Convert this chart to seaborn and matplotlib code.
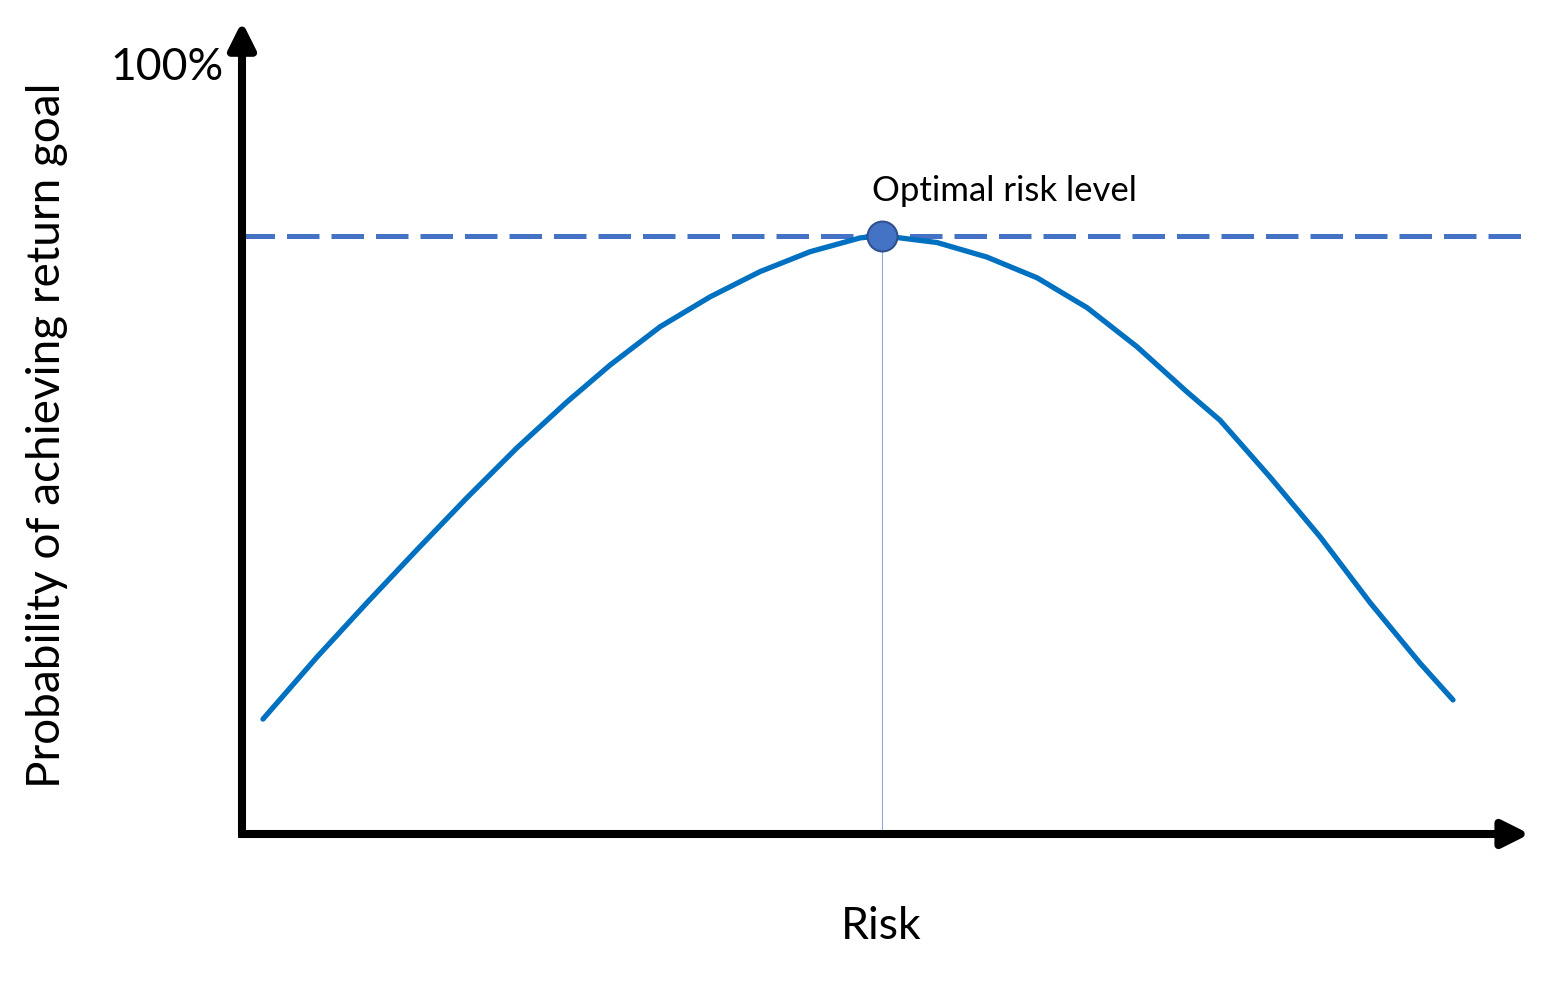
import numpy as np
import pandas as pd
import seaborn as sns
import matplotlib.pyplot as plt

# values: risk on a 0-10 scale, probability in %
risk = [0.164, 0.586, 0.977, 1.367, 1.758, 2.148, 2.539, 2.875, 3.266,
        3.656, 4.047, 4.438, 4.828, 5.0, 5.430, 5.820, 6.211, 6.602,
        6.992, 7.383, 7.641, 8.031, 8.422, 8.813, 9.203, 9.461]
prob = [15.0, 23.1, 30.2, 37.1, 43.9, 50.4, 56.4, 61.2, 66.2,
        70.1, 73.4, 76.0, 77.8, 78.1, 77.2, 75.3, 72.6, 68.7,
        63.6, 57.7, 54.0, 46.6, 38.8, 30.2, 22.3, 17.5]
optimal_risk = 5.0
optimal_prob = 78.1

df = pd.DataFrame({'Risk': risk, 'Probability': prob})

sns.set_style("white")
plt.rcParams['font.family'] = ['Lato', 'DejaVu Sans']
plt.rcParams['text.color'] = 'black'

fig = plt.figure(figsize=(15.5, 9.85), dpi=100)
ax = fig.add_axes([242/1550, 151/985, 1280/1550, 806/985])

sns.lineplot(data=df, x='Risk', y='Probability', ax=ax, color='#0070C0',
             linewidth=3.8, zorder=3)
ax.plot([0, 10], [optimal_prob, optimal_prob], color='#4472C4', lw=3.6,
        ls=(0, (6.5, 2.4)), zorder=2, solid_capstyle='butt')
ax.plot([optimal_risk, optimal_risk], [0, optimal_prob], color='#8FAADC',
        lw=0.8, zorder=1)
sns.scatterplot(x=[optimal_risk], y=[optimal_prob], ax=ax, s=21.5**2,
                color='#4472C4', edgecolor='#2F528F', linewidth=1.5, zorder=4)

ax.set_xlim(0, 10)
ax.set_ylim(0, 105.2)
ax.set_xticks([])
ax.set_yticks([])
ax.set_xlabel('')
ax.set_ylabel('')
sns.despine(ax=ax, left=True, bottom=True)

# axis arrows
arrow = dict(arrowstyle='-|>', lw=5.8, color='black', mutation_scale=40,
             shrinkA=0, shrinkB=0, capstyle='butt')
ax.annotate('', xy=(0, 1.008), xytext=(0, -0.004), xycoords='axes fraction',
            arrowprops=arrow, annotation_clip=False)
ax.annotate('', xy=(1.006, 0), xytext=(-0.003, 0), xycoords='axes fraction',
            arrowprops=arrow, annotation_clip=False)

ax.text(-0.14, 100, '100%', ha='right', va='center', fontsize=32, clip_on=False)
ax.text(4.99, -12.1, 'Risk', ha='center', va='center', fontsize=32, clip_on=False)
ax.text(-1.52, 52.1, 'Probability of achieving return goal', rotation=90,
        ha='center', va='center', fontsize=33, clip_on=False)
ax.text(5.96, 83.9, 'Optimal risk level', ha='center', va='center',
        fontsize=25, clip_on=False)

plt.savefig('out.png', dpi=100, facecolor='white')
